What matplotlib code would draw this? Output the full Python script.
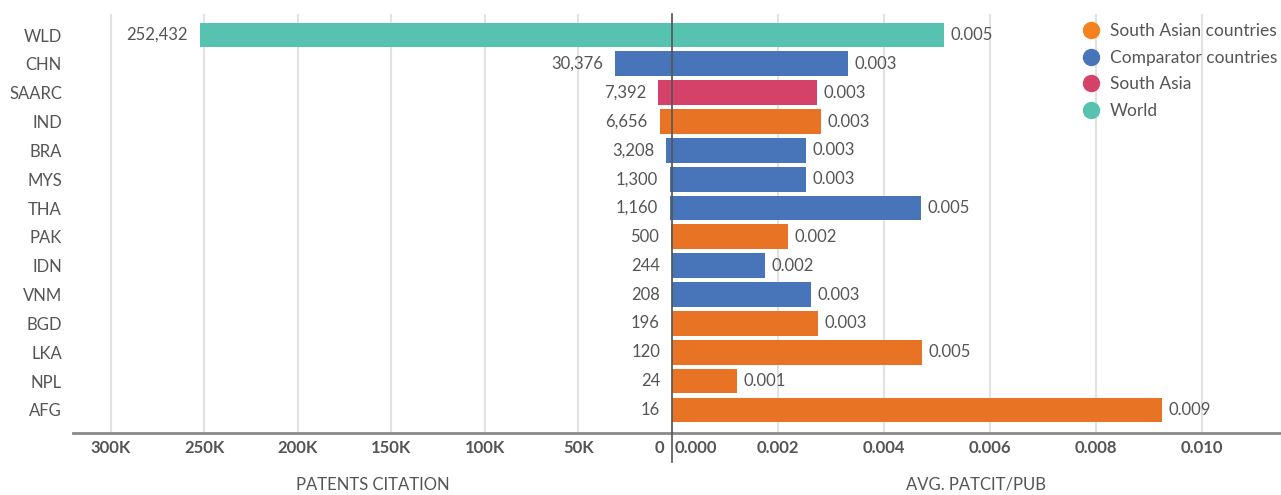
import matplotlib.pyplot as plt
from matplotlib.lines import Line2D
import matplotlib.transforms as mtransforms

plt.rcParams['font.family'] = ['Lato', 'DejaVu Sans']

# Datos
paises = ["WLD", "CHN", "SAARC", "IND", "BRA", "MYS", "THA",
          "PAK", "IDN", "VNM", "BGD", "LKA", "NPL", "AFG"]
grupos = ["World", "Comparator countries", "South Asia", "South Asian countries",
          "Comparator countries", "Comparator countries", "Comparator countries",
          "South Asian countries", "Comparator countries", "Comparator countries",
          "South Asian countries", "South Asian countries", "South Asian countries",
          "South Asian countries"]
citas = [252432, 30376, 7392, 6656, 3208, 1300, 1160, 500, 244, 208, 196, 120, 24, 16]
promedio = [0.00513, 0.00332, 0.00274, 0.00281, 0.00253, 0.00253, 0.00470,
            0.00219, 0.00175, 0.00262, 0.00275, 0.00472, 0.00123, 0.00925]

orden_leyenda = ["South Asian countries", "Comparator countries", "South Asia", "World"]
colores = {"South Asian countries": "#E87324", "Comparator countries": "#4874BA",
           "South Asia": "#D4426A", "World": "#58C2B1"}
color_leyenda = {"South Asian countries": "#F5821F", "Comparator countries": "#4874BA",
                 "South Asia": "#D4426A", "World": "#58C2B1"}

gris = "#555555"
col_barras = [colores[g] for g in grupos]
y = list(range(len(paises)))

fig = plt.figure(figsize=(12.81, 4.95), dpi=100)
abajo, alto = 0.1253, 0.8465
ax1 = fig.add_axes([73 / 1281, abajo, 599 / 1281, alto])
ax2 = fig.add_axes([672 / 1281, abajo, 608 / 1281, alto])

# Izquierda: citas de patentes
b1 = ax1.barh(y, citas, height=0.86, color=col_barras)
ax1.set_xlim(320300, 0)
ax1.set_xticks([0, 50000, 100000, 150000, 200000, 250000, 300000])
ax1.set_xticklabels(["0", "50K", "100K", "150K", "200K", "250K", "300K"])
ax1.bar_label(b1, labels=[f"{v:,}" for v in citas], padding=8.5,
              fontsize=12, color=gris)
ax1.set_yticks(y)
ax1.set_yticklabels(paises)

# Derecha: promedio
b2 = ax2.barh(y, promedio, height=0.86, color=col_barras)
ax2.set_xlim(0, 0.01147)
ax2.set_xticks([0, 0.002, 0.004, 0.006, 0.008, 0.010])
ax2.set_xticklabels(["0.000", "0.002", "0.004", "0.006", "0.008", "0.010"])
ax2.bar_label(b2, labels=[f"{v:.3f}" for v in promedio], padding=4.5,
              fontsize=12, color=gris)
ax2.set_yticks([])

for ax in (ax1, ax2):
    ax.set_ylim(13.8, -0.73)
    ax.grid(axis="x", color="#e2e2e2", linewidth=1.5)
    ax.set_axisbelow(True)
    for s in ("top", "left", "right"):
        ax.spines[s].set_visible(False)
    ax.spines["bottom"].set_color("#8a8a8a")
    ax.spines["bottom"].set_linewidth(2)
    ax.tick_params(axis="x", length=0, pad=5, labelsize=12, labelcolor=gris)
    for t in ax.get_xticklabels():
        t.set_fontweight("bold")
    ax.tick_params(axis="y", length=0, pad=8, labelsize=12, labelcolor=gris)
    ax.xaxis.set_label_coords(0.5, -0.124)

ax1.set_xlabel("PATENTS CITATION", fontsize=12, color=gris, va="center")
ax2.set_xlabel("AVG. PATCIT/PUB", fontsize=12, color=gris, va="center")

# "0" a la izquierda del divisor, "0.000" a la derecha
t0 = ax1.get_xticklabels()[0]
t0.set_ha("right")
t0.set_transform(t0.get_transform() + mtransforms.ScaledTranslation(-8 / 100, 0, fig.dpi_scale_trans))
t00 = ax2.get_xticklabels()[0]
t00.set_ha("left")
t00.set_transform(t00.get_transform() + mtransforms.ScaledTranslation(3 / 100, 0, fig.dpi_scale_trans))

# linea divisoria
fig.add_artist(Line2D([672 / 1281, 672 / 1281], [1 - 14 / 495, 1 - 462 / 495],
                      color="#555555", linewidth=1.2))

manejadores = [Line2D([], [], marker="o", linestyle="", markersize=11.5,
                      color=color_leyenda[g]) for g in orden_leyenda]
fig.legend(manejadores, orden_leyenda, loc="upper left",
           bbox_to_anchor=(1074 / 1281, 1 - 16 / 495), frameon=False,
           fontsize=12.5, labelcolor=gris, handletextpad=0.45,
           labelspacing=0.62, borderaxespad=0, handlelength=1.2)

fig.savefig("out.png", dpi=100)
